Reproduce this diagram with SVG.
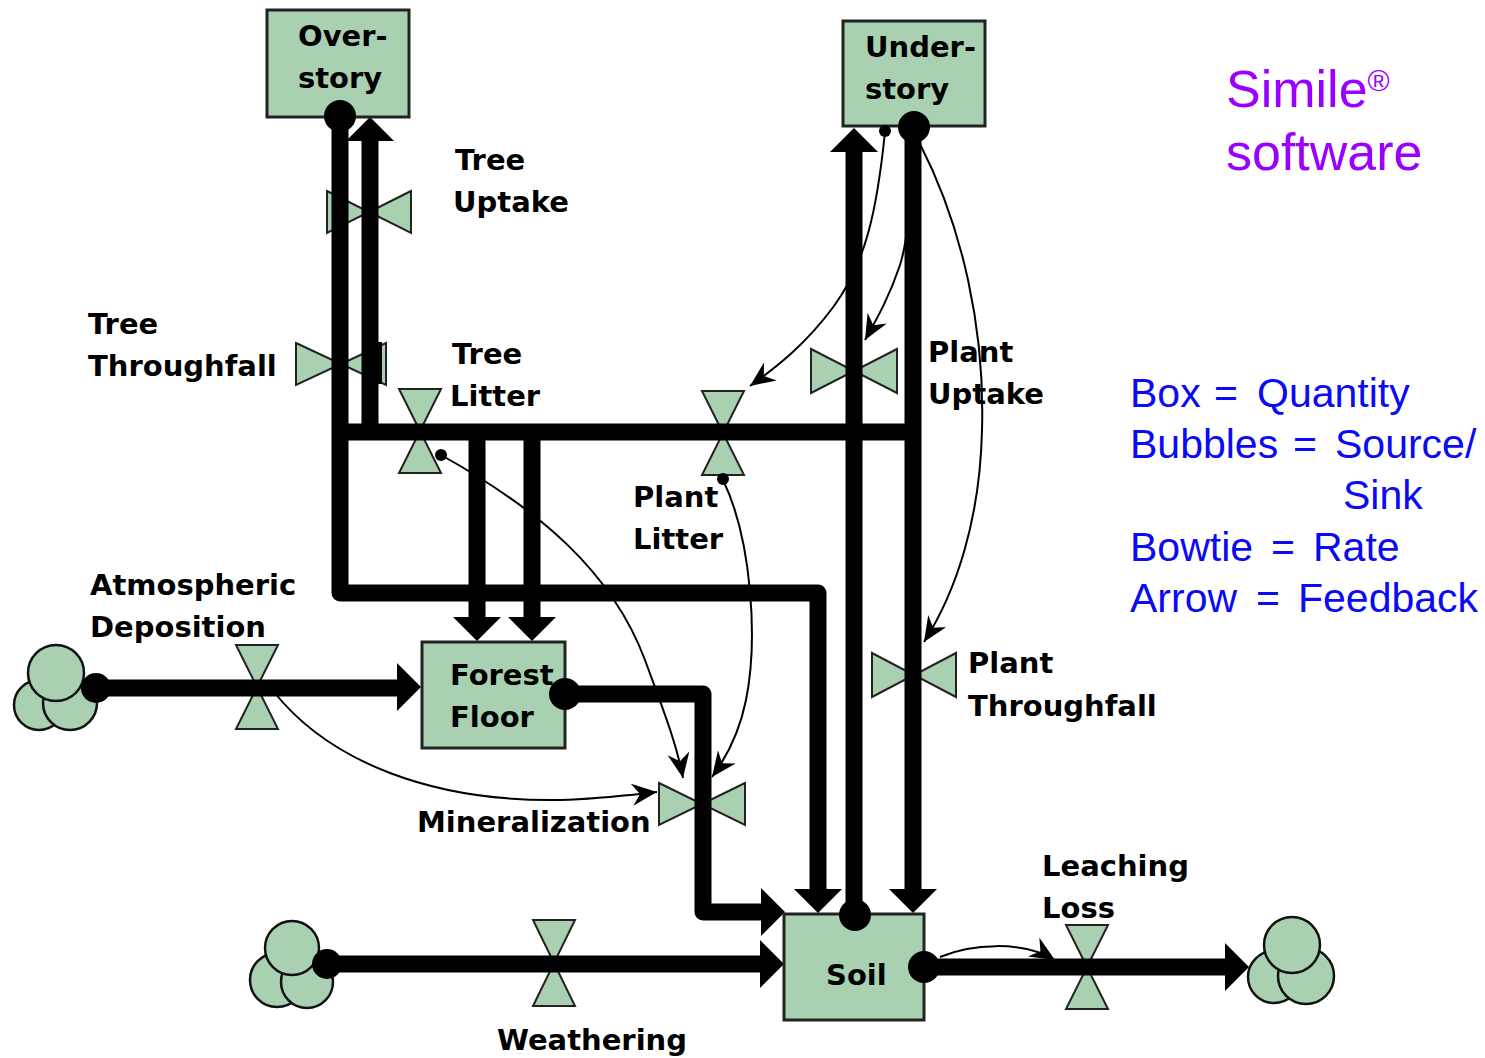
<svg xmlns="http://www.w3.org/2000/svg" width="1485" height="1058" viewBox="0 0 1485 1058">
<style>
.box{fill:#a9d1b1;stroke:#222;stroke-width:3}
.bt{fill:#a9d1b1;stroke:#222;stroke-width:2;stroke-linejoin:miter}
.cl{fill:#a9d1b1;stroke:#111;stroke-width:2.5}
.pipe{fill:none;stroke:#000;stroke-width:17;stroke-linejoin:round}
.thin{fill:none;stroke:#000;stroke-width:2}
.lbl{font-family:"DejaVu Sans",sans-serif;font-weight:bold;font-size:29px;fill:#000}
.leg{font-family:"Liberation Sans",Arial,sans-serif;font-size:41px;fill:#0a0af5}
.sim{font-family:"Liberation Sans",Arial,sans-serif;font-size:52px;fill:#9b00ff}
</style>
<defs>
<marker id="ah" markerUnits="userSpaceOnUse" markerWidth="28" markerHeight="24" refX="25" refY="11" orient="auto" viewBox="0 0 28 24">
<path d="M0,0 L25,11 L0,22 L8,11 Z" fill="#000"/>
</marker>
</defs>
<rect width="1485" height="1058" fill="#fff"/>

<g id="bowties">
<g id="tree-uptake-valve"><polygon class="bt" points="327,191 369,212 327,233"/><polygon class="bt" points="411,191 369,212 411,233"/></g>
<g id="tree-throughfall-valve"><polygon class="bt" points="296,343 341,364 296,385"/><polygon class="bt" points="386,343 341,364 386,385"/></g>
<g id="plant-uptake-valve"><polygon class="bt" points="811,349 854,371 811,393"/><polygon class="bt" points="897,349 854,371 897,393"/></g>
<g id="plant-throughfall-valve"><polygon class="bt" points="872,653 914,675 872,697"/><polygon class="bt" points="956,653 914,675 956,697"/></g>
<g id="mineralization-valve"><polygon class="bt" points="659,783 702,804 659,825"/><polygon class="bt" points="745,783 702,804 745,825"/></g>
<g id="tree-litter-valve"><polygon class="bt" points="399,389 441,389 420,431"/><polygon class="bt" points="399,473 441,473 420,431"/></g>
<g id="plant-litter-valve"><polygon class="bt" points="702,391 744,391 723,433"/><polygon class="bt" points="702,475 744,475 723,433"/></g>
<g id="atm-deposition-valve"><polygon class="bt" points="236,645 278,645 257,687"/><polygon class="bt" points="236,729 278,729 257,687"/></g>
<g id="weathering-valve"><polygon class="bt" points="533,920 575,920 554,963"/><polygon class="bt" points="533,1006 575,1006 554,963"/></g>
<g id="leaching-valve"><polygon class="bt" points="1066,925 1108,925 1087,967"/><polygon class="bt" points="1066,1009 1108,1009 1087,967"/></g>
</g>

<g id="connectors">
<path class="pipe" d="M340,117 V593 H818 V889"/>
<path class="pipe" d="M370,432 V140"/>
<rect x="362" y="342" width="20" height="42" fill="#000"/>
<path class="pipe" d="M340,432 H913"/>
<path class="pipe" d="M477,432 V618"/>
<path class="pipe" d="M532,432 V618"/>
<path class="pipe" d="M854,914 V152"/>
<path class="pipe" d="M913,126 V890"/>
<path class="pipe" d="M96,688 H398"/>
<path class="pipe" d="M565,694 H703 V912 H761"/>
<path class="pipe" d="M327,964 H760"/>
<path class="pipe" d="M924,967 H1225"/>
<polygon points="370,117 346,141 394,141" fill="#000"/>
<polygon points="854,128 830,152 878,152" fill="#000"/>
<polygon points="477,641 453,617 501,617" fill="#000"/>
<polygon points="532,641 508,617 556,617" fill="#000"/>
<polygon points="818,913 794,889 842,889" fill="#000"/>
<polygon points="913,913 889,889 937,889" fill="#000"/>
<polygon points="421,687 397,663 397,711" fill="#000"/>
<polygon points="785,912 761,888 761,936" fill="#000"/>
<polygon points="784,964 760,940 760,988" fill="#000"/>
<polygon points="1249,967 1225,943 1225,991" fill="#000"/>
<path class="thin" d="M885,132 C877,210 866,262 834,306 C806,344 778,366 750,386" marker-end="url(#ah)"/>
<path class="thin" d="M913,130 C911,200 908,240 900,265 C890,295 879,315 865,340" marker-end="url(#ah)"/>
<path class="thin" d="M920,144 C963,228 985,330 982,430 C980,520 956,592 924,642" marker-end="url(#ah)"/>
<path class="thin" d="M441,455 C540,510 612,572 645,660 C664,712 677,745 683,778" marker-end="url(#ah)"/>
<path class="thin" d="M723,480 C752,540 758,640 746,700 C739,735 726,758 712,777" marker-end="url(#ah)"/>
<path class="thin" d="M274,692 C330,762 432,802 560,800 C600,799 630,795 657,792" marker-end="url(#ah)"/>
<path class="thin" d="M940,957 C970,944 1022,940 1055,960" marker-end="url(#ah)"/>
</g>

<g id="overstory"><rect class="box" x="267" y="10" width="142" height="107"/>
<text class="lbl" x="298" y="46">Over-</text><text class="lbl" x="298" y="88">story</text>
<circle cx="340" cy="116" r="16" fill="#000"/></g>
<g id="understory"><rect class="box" x="843" y="21" width="142" height="105"/>
<text class="lbl" x="865" y="57">Under-</text><text class="lbl" x="865" y="99">story</text>
<circle cx="914" cy="127" r="16" fill="#000"/><circle cx="885" cy="131" r="6" fill="#000"/></g>
<g id="forest-floor"><rect class="box" x="422" y="642" width="143" height="106"/>
<text class="lbl" x="450" y="685">Forest</text><text class="lbl" x="450" y="727">Floor</text>
<circle cx="565" cy="694" r="16" fill="#000"/></g>
<g id="soil"><rect class="box" x="784" y="914" width="140" height="106"/>
<text class="lbl" x="826" y="985">Soil</text>
<circle cx="855" cy="915" r="16" fill="#000"/><circle cx="924" cy="967" r="16" fill="#000"/></g>

<g id="cloud-atm"><circle class="cl" cx="39" cy="705" r="25"/><circle class="cl" cx="70" cy="703" r="27"/><circle class="cl" cx="56" cy="673" r="28"/><circle cx="96" cy="688" r="15" fill="#000"/></g>
<g id="cloud-weathering"><circle class="cl" cx="277" cy="980" r="27"/><circle class="cl" cx="307" cy="982" r="26"/><circle class="cl" cx="292" cy="948" r="27"/><circle cx="327" cy="964" r="15" fill="#000"/></g>
<g id="cloud-leaching"><circle class="cl" cx="1274" cy="977" r="26"/><circle class="cl" cx="1306" cy="976" r="28"/><circle class="cl" cx="1292" cy="945" r="28"/></g>

<g id="feedback-dots">
<circle cx="441" cy="455" r="6" fill="#000"/>
<circle cx="723" cy="479" r="6" fill="#000"/>
</g>

<g id="labels">
<text class="lbl" x="455" y="170">Tree</text><text class="lbl" x="453" y="212">Uptake</text>
<text class="lbl" x="88" y="334">Tree</text><text class="lbl" x="88" y="376">Throughfall</text>
<text class="lbl" x="452" y="364">Tree</text><text class="lbl" x="450" y="406">Litter</text>
<text class="lbl" x="928" y="362">Plant</text><text class="lbl" x="928" y="404">Uptake</text>
<text class="lbl" x="633" y="507">Plant</text><text class="lbl" x="633" y="549">Litter</text>
<text class="lbl" x="90" y="595">Atmospheric</text><text class="lbl" x="90" y="637">Deposition</text>
<text class="lbl" x="968" y="673">Plant</text><text class="lbl" x="968" y="716">Throughfall</text>
<text class="lbl" x="417" y="832">Mineralization</text>
<text class="lbl" x="1042" y="876">Leaching</text><text class="lbl" x="1042" y="918">Loss</text>
<text class="lbl" x="497" y="1050">Weathering</text>
</g>

<g id="legend">
<text class="sim" x="1226" y="107">Simile<tspan font-size="30" dy="-16">®</tspan></text>
<text class="sim" x="1226" y="170">software</text>
<text class="leg" y="407"><tspan x="1130">Box</tspan><tspan x="1214">=</tspan><tspan x="1257">Quantity</tspan></text>
<text class="leg" y="458"><tspan x="1130">Bubbles</tspan><tspan x="1293">=</tspan><tspan x="1335">Source/</tspan></text>
<text class="leg" x="1343" y="509">Sink</text>
<text class="leg" y="561"><tspan x="1130">Bowtie</tspan><tspan x="1271">=</tspan><tspan x="1313">Rate</tspan></text>
<text class="leg" y="612"><tspan x="1130">Arrow</tspan><tspan x="1256">=</tspan><tspan x="1298">Feedback</tspan></text>
</g>
</svg>
